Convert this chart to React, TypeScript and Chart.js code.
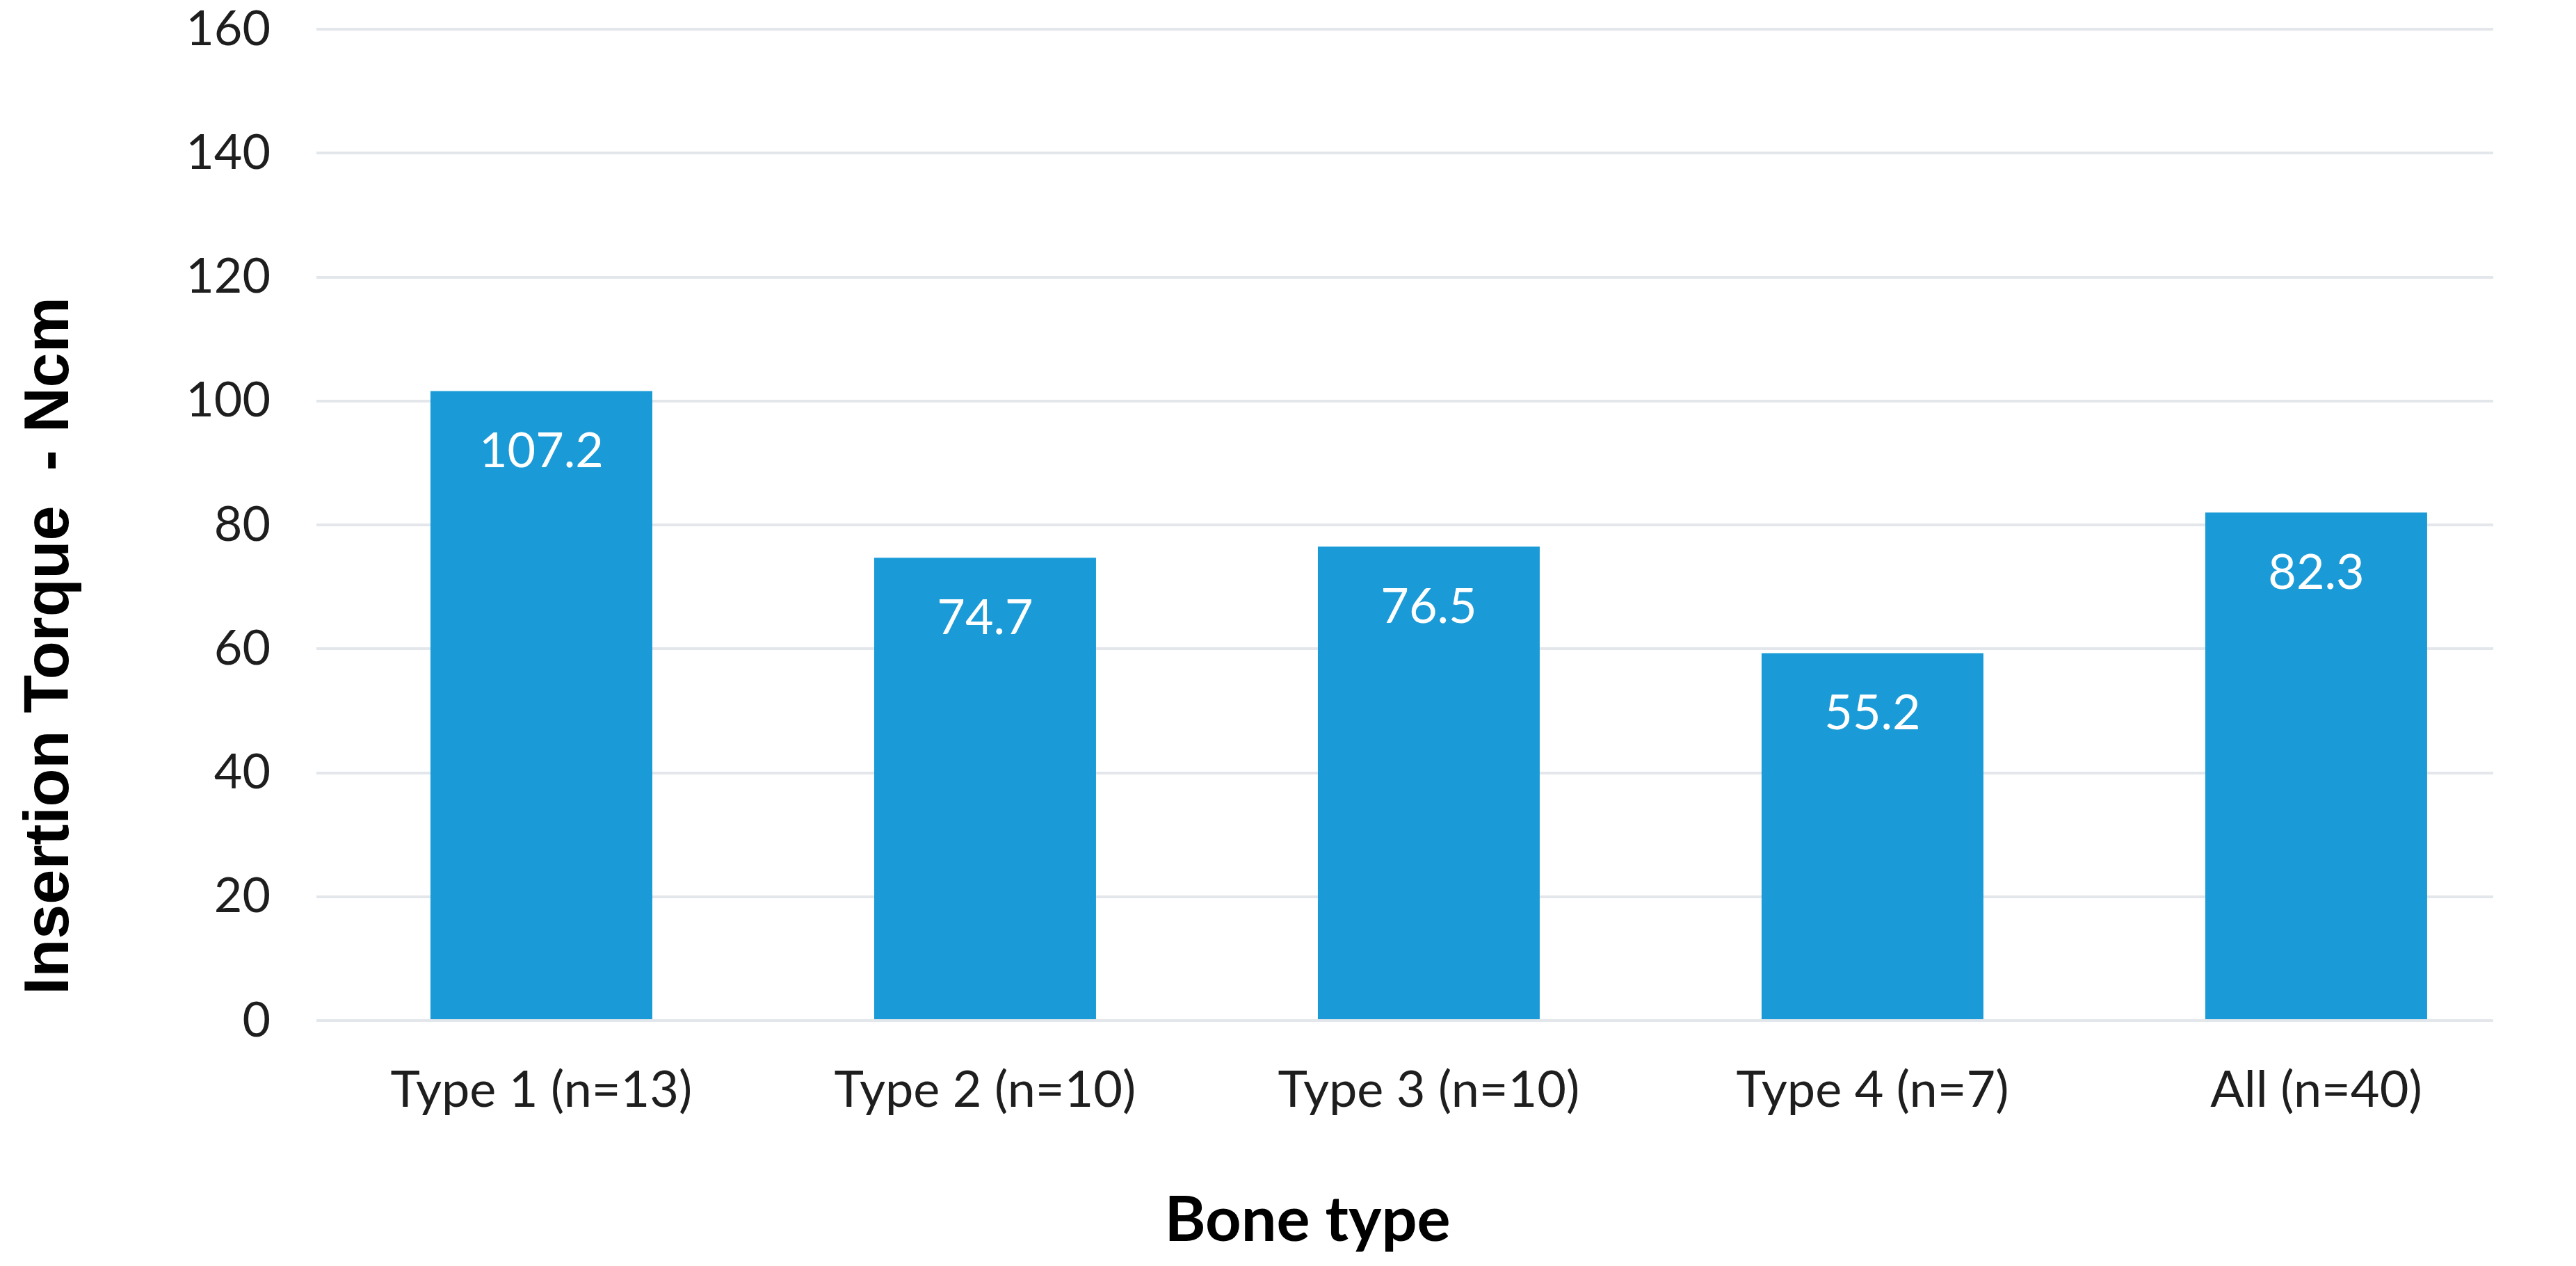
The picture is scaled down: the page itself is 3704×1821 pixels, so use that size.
import React, { useEffect, useRef } from "react";
import { Chart, registerables } from "chart.js";

Chart.register(...registerables);

const categories = ["Type 1 (n=13)", "Type 2 (n=10)", "Type 3 (n=10)", "Type 4 (n=7)", "All (n=40)"];
const barValues = [101.6, 74.7, 76.5, 59.3, 82.0];
const valueLabels = ["107.2", "74.7", "76.5", "55.2", "82.3"];
const yMin = 0;
const yMax = 160;
const yStep = 20;
const xRange = [-0.507, 4.399];
const xTitle = "Bone type";
const yTitle = "Insertion Torque  - Ncm";

const BAR_COLOR = "#1A9BD7";
const GRID_COLOR = "#E3E7EB";
const TEXT_COLOR = "#1E1E1E";

const valueLabelPlugin = {
  id: "valueLabels",
  afterDatasetsDraw(chart: any) {
    const ctx = chart.ctx;
    const meta = chart.getDatasetMeta(0);
    ctx.save();
    ctx.fillStyle = "#FFFFFF";
    ctx.font = "70px Lato";
    ctx.textAlign = "center";
    ctx.textBaseline = "alphabetic";
    meta.data.forEach((bar: any, i: number) => {
      ctx.fillText(valueLabels[i], bar.x, bar.y + 110);
    });
    ctx.restore();
  },
};

const axisTitlePlugin = {
  id: "axisTitles",
  afterDraw(chart: any) {
    const ctx = chart.ctx;
    const area = chart.chartArea;
    ctx.save();
    ctx.fillStyle = "#000000";
    ctx.font = "bold 90px Lato";
    ctx.textAlign = "center";
    ctx.textBaseline = "alphabetic";
    ctx.fillText(xTitle, area.left + 1425, area.bottom + 317);
    ctx.translate(98, area.top + 887);
    ctx.rotate(-Math.PI / 2);
    ctx.font = 'bold 90px "Liberation Sans", Arial, sans-serif';
    ctx.textAlign = "center";
    ctx.textBaseline = "alphabetic";
    ctx.fillText(yTitle, 0, 0);
    ctx.restore();
  },
};

export default function App() {
  const canvasRef = useRef<HTMLCanvasElement | null>(null);

  useEffect(() => {
    if (!canvasRef.current) return;
    const points = barValues.map((v, i) => ({ x: i, y: v }));
    const chart = new Chart(canvasRef.current, {
      type: "bar",
      data: {
        datasets: [
          {
            data: points,
            backgroundColor: BAR_COLOR,
            borderWidth: 0,
            barPercentage: 0.5,
            categoryPercentage: 1.0,
          },
        ],
      },
      options: {
        animation: false,
        responsive: true,
        maintainAspectRatio: false,
        devicePixelRatio: 1,
        layout: { padding: { top: 42, right: 119, left: 0, bottom: 0 } },
        plugins: {
          legend: { display: false },
          tooltip: { enabled: false },
          title: { display: false },
        },
        scales: {
          x: {
            type: "linear",
            min: xRange[0],
            max: xRange[1],
            offset: false,
            grid: { display: false, drawTicks: false },
            border: { display: false },
            afterBuildTicks(scale: any) {
              scale.ticks = categories.map((_, i) => ({ value: i }));
            },
            ticks: {
              color: TEXT_COLOR,
              font: { family: "Lato", size: 72 },
              padding: 58,
              maxRotation: 0,
              autoSkip: false,
              callback: (value: any) => {
                const idx = Math.round(Number(value));
                return idx >= 0 && idx < categories.length ? categories[idx] : "";
              },
            },
            afterFit(scale: any) {
              scale.height = 353;
              scale.paddingLeft = 0;
              scale.paddingRight = 0;
            },
          },
          y: {
            min: yMin,
            max: yMax,
            grid: { color: GRID_COLOR, lineWidth: 4, drawTicks: false },
            border: { display: false },
            ticks: {
              stepSize: yStep,
              color: TEXT_COLOR,
              font: { family: "Lato", size: 70 },
              padding: 66,
            },
            afterFit(scale: any) {
              scale.width = 455;
              scale.paddingTop = 0;
              scale.paddingBottom = 0;
            },
          },
        },
      },
      plugins: [valueLabelPlugin, axisTitlePlugin],
    });
    return () => chart.destroy();
  }, []);

  return (
    <div style={{ position: "absolute", left: 0, top: 0, width: 3704, height: 1821, background: "#FFFFFF" }}>
      <canvas ref={canvasRef} />
    </div>
  );
}
